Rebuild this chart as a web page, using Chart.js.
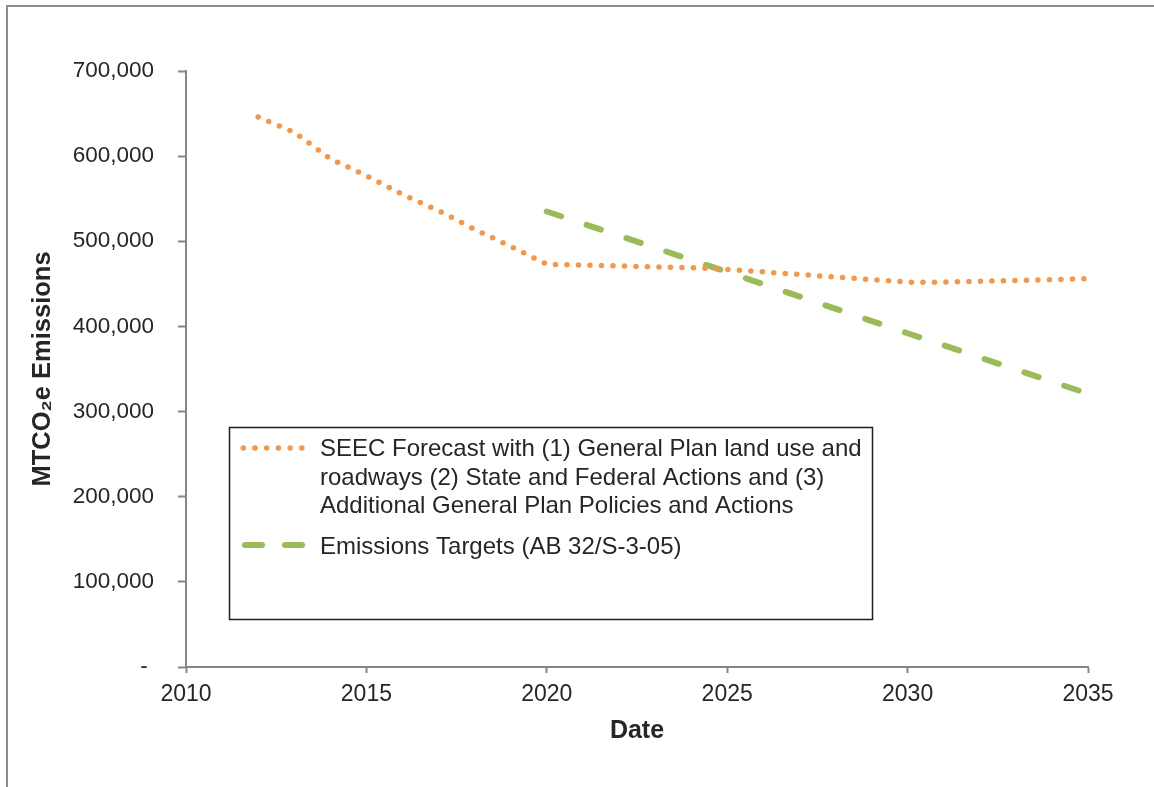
<!DOCTYPE html>
<html>
<head>
<meta charset="utf-8">
<script src="https://cdn.jsdelivr.net/npm/chart.js@4.4.0/dist/chart.umd.min.js"></script>
<style>
  html, body { margin: 0; padding: 0; background: #fff; }
  #wrap { position: relative; width: 1154px; height: 787px; overflow: hidden; }
  #frame { position: absolute; left: 6px; top: 5px; width: 1200px; height: 900px;
           border-left: 2px solid #8c8c8c; border-top: 2px solid #8c8c8c; }
  canvas { position: absolute; left: 0; top: 0; }
</style>
</head>
<body>
<div id="wrap">
  <div id="frame"></div>
  <canvas id="emissions" width="1154" height="787"></canvas>
</div>
<script>
// data
const forecastYears = [2012, 2013, 2014, 2015, 2016, 2017, 2018, 2019, 2020, 2021, 2022, 2023,
                       2024, 2025, 2026, 2027, 2028, 2029, 2030, 2031, 2032, 2033, 2034, 2035];
const forecastValues = [646000, 628000, 597000, 577000, 555000, 536000, 514000, 494000, 473000, 472000, 471000, 470000,
                        469000, 467000, 464000, 461000, 458000, 455000, 452000, 452000, 453000, 454000, 455000, 456000];
const targetYears = [2020, 2025, 2030, 2035];
const targetValues = [535000, 464000, 392000, 321000];

const xTicks = [2010, 2015, 2020, 2025, 2030, 2035];
const yTicks = [0, 100000, 200000, 300000, 400000, 500000, 600000, 700000];

const forecastLabel = ['SEEC Forecast with (1) General Plan land use and',
                       'roadways (2) State and Federal Actions and (3)',
                       'Additional General Plan Policies and Actions'];
const targetLabel = ['Emissions Targets (AB 32/S-3-05)'];

const FONT = '"Liberation Sans", Arial, sans-serif';
const TEXT = '#262626';
const AXIS = '#868686';
const ORANGE = '#F79646';
const GREEN = '#9BBB59';

// boxed legend like the original
const boxLegend = {
  id: 'boxLegend',
  afterDraw(chart) {
    const ctx = chart.ctx;
    ctx.save();
    ctx.strokeStyle = '#1f1f1f';
    ctx.lineWidth = 1.5;
    ctx.strokeRect(229.5, 427.5, 643, 192);

    ctx.lineCap = 'round';
    ctx.strokeStyle = ORANGE;
    ctx.lineWidth = 5.5;
    ctx.setLineDash([0, 11.7]);
    ctx.beginPath();
    ctx.moveTo(243.3, 448);
    ctx.lineTo(303, 448);
    ctx.stroke();

    ctx.strokeStyle = GREEN;
    ctx.lineWidth = 6;
    ctx.setLineDash([17, 23]);
    ctx.beginPath();
    ctx.moveTo(245, 545);
    ctx.lineTo(303, 545);
    ctx.stroke();
    ctx.setLineDash([]);

    ctx.fillStyle = TEXT;
    ctx.font = '24px ' + FONT;
    ctx.textAlign = 'left';
    ctx.textBaseline = 'alphabetic';
    forecastLabel.forEach((line, i) => ctx.fillText(line, 320, 456 + i * 28.5));
    targetLabel.forEach((line, i) => ctx.fillText(line, 320, 554 + i * 28.5));
    ctx.restore();
  }
};

new Chart(document.getElementById('emissions'), {
  type: 'line',
  data: {
    datasets: [{
      label: forecastLabel.join(' '),
      data: forecastYears.map((x, i) => ({ x: x, y: forecastValues[i] })),
      borderColor: ORANGE,
      borderWidth: 5.5,
      borderDash: [0, 11.5],
      borderCapStyle: 'round',
      borderJoinStyle: 'round',
      pointRadius: 0,
      tension: 0,
      fill: false
    }, {
      label: targetLabel[0],
      data: targetYears.map((x, i) => ({ x: x, y: targetValues[i] })),
      borderColor: GREEN,
      borderWidth: 6,
      borderDash: [15, 27],
      borderCapStyle: 'round',
      pointRadius: 0,
      tension: 0,
      fill: false
    }]
  },
  options: {
    responsive: false,
    animation: false,
    layout: { padding: { left: 0, top: 71, right: 66, bottom: 0 } },
    plugins: {
      legend: { display: false },
      tooltip: { enabled: false }
    },
    scales: {
      x: {
        type: 'linear',
        position: 'bottom',
        min: 2010,
        max: 2035,
        afterBuildTicks: s => { s.ticks = xTicks.map(v => ({ value: v })); },
        afterFit: s => { s.height = 120; },
        ticks: {
          autoSkip: false,
          maxRotation: 0,
          padding: 8,
          color: TEXT,
          font: { family: FONT, size: 23 },
          callback: v => String(v)
        },
        grid: { drawOnChartArea: false, tickLength: 6, tickWidth: 2, tickColor: AXIS },
        border: { color: AXIS, width: 2 },
        title: {
          display: true,
          text: 'Date',
          color: TEXT,
          font: { family: FONT, size: 25, weight: 'bold' },
          padding: { top: 0, bottom: 41 }
        }
      },
      y: {
        min: 0,
        max: 700000,
        afterBuildTicks: s => { s.ticks = yTicks.map(v => ({ value: v })); },
        afterFit: s => { s.width = 186; },
        ticks: {
          padding: 24,
          color: TEXT,
          font: { family: FONT, size: 22.5 },
          callback: v => v === 0 ? '- ' : v.toLocaleString('en-US')
        },
        grid: { drawOnChartArea: false, tickLength: 8, tickWidth: 2, tickColor: AXIS },
        border: { color: AXIS, width: 2 },
        title: {
          display: true,
          text: 'MTCO\u2082e Emissions',
          color: TEXT,
          font: { family: FONT, size: 25.5, weight: 'bold' },
          padding: { top: 28, bottom: 0 }
        }
      }
    }
  },
  plugins: [boxLegend]
});
</script>
</body>
</html>
